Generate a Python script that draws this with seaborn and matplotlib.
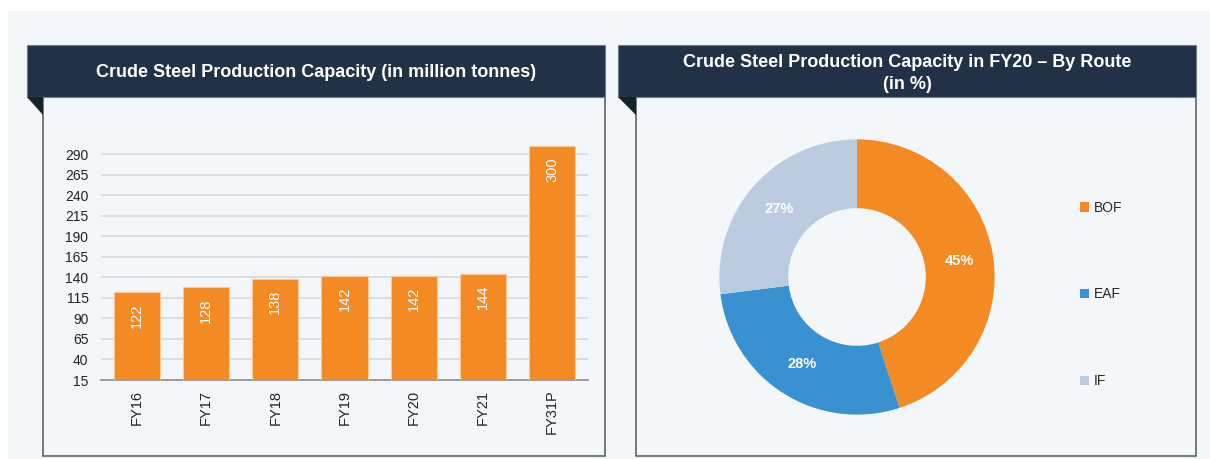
import matplotlib
matplotlib.use("Agg")
import matplotlib.pyplot as plt
import matplotlib.patches as mpatches
import seaborn as sns

# data
years = ["FY16", "FY17", "FY18", "FY19", "FY20", "FY21", "FY31P"]
capacity = [122, 128, 138, 142, 142, 144, 300]
y_ticks = [15, 40, 65, 90, 115, 140, 165, 190, 215, 240, 265, 290]

routes = ["BOF", "EAF", "IF"]
route_share = [45, 28, 27]

ORANGE = "#F38A23"
route_colors = ["#F38A23", "#3A91D1", "#BBCCE1"]
NAVY = "#213247"
PANEL_BG = "#F4F7F9"
BORDER = "#56666F"

sns.set_theme(style="white")
plt.rcParams["font.family"] = ["Liberation Sans", "DejaVu Sans"]
TITLE_FONT = ["Liberation Sans Narrow", "Liberation Sans", "DejaVu Sans"]

W, H = 1210, 459
fig = plt.figure(figsize=(W / 100, H / 100), dpi=100)
fig.patch.set_facecolor("white")


def px_rect(x0, y0, x1, y1, **kw):
    # rectangle given in image pixel coords (origin top-left)
    r = mpatches.Rectangle((x0 / W, 1 - y1 / H), (x1 - x0) / W, (y1 - y0) / H,
                           transform=fig.transFigure, figure=fig, **kw)
    fig.patches.append(r)


def px_poly(points, **kw):
    pts = [(x / W, 1 - y / H) for x, y in points]
    p = mpatches.Polygon(pts, closed=True, transform=fig.transFigure, figure=fig, **kw)
    fig.patches.append(p)


# page background
px_rect(8, 11, W, H, facecolor=PANEL_BG, edgecolor="none", zorder=-3)


def draw_panel(x0, x1, body_x0, title, title_y):
    px_rect(body_x0, 97, x1, 456, facecolor=PANEL_BG, edgecolor=BORDER, lw=1.2, zorder=-2)
    px_rect(x0, 45, x1, 97, facecolor=NAVY, edgecolor="#6E7F8C", lw=0.8, zorder=-1)
    px_poly([(x0, 97), (body_x0, 97), (body_x0, 115)], facecolor="#13232B",
            edgecolor="none", zorder=-1)
    fig.text((x0 + x1) / 2 / W, 1 - title_y / H, title, color="white",
             fontsize=13, fontweight="bold", family=TITLE_FONT,
             ha="center", va="center", linespacing=1.45, zorder=3)


draw_panel(27, 605, 43, "Crude Steel Production Capacity (in million tonnes)", 72.5)
draw_panel(618, 1196, 636, "Crude Steel Production Capacity in FY20 \u2013 By Route\n(in %)", 73.5)

# ---- bar chart ----
ax = fig.add_axes([101 / W, 1 - 380 / H, 487 / W, (380 - 137.6) / H])
ax.set_zorder(2)
ax.set_facecolor("none")
sns.barplot(x=years, y=capacity, color=ORANGE, ax=ax, width=0.67,
            saturation=1, edgecolor="#F9C99C", linewidth=0.8, zorder=3)
ax.set_ylim(15, 310)
ax.set_xlim(-0.52, len(years) - 0.48)
ax.set_yticks(y_ticks)
ax.yaxis.grid(True, color="#D6D9DB", lw=1.2, zorder=0)
ax.xaxis.grid(False)
ax.set_axisbelow(True)
for s in ["top", "right", "left"]:
    ax.spines[s].set_visible(False)
ax.spines["bottom"].set_color("#8C8C8C")
ax.spines["bottom"].set_linewidth(1.2)
ax.tick_params(axis="y", length=0, labelsize=10, labelcolor="#222222", pad=9)
ax.tick_params(axis="x", which="major", length=0, labelsize=10.5, labelcolor="#222222",
               pad=7, labelrotation=90)
ax.set_xticks([i + 0.5 for i in range(-1, len(years))], minor=True)
ax.tick_params(axis="x", which="minor", length=5, color="#8C8C8C", width=1.2)
ax.set_xlabel("")
ax.set_ylabel("")
for i, v in enumerate(capacity):
    ax.annotate(str(v), (i, v), xytext=(0, -8), textcoords="offset points",
                rotation=90, ha="center", va="top", color="white", fontsize=10.5, zorder=4)

# ---- donut ----
ax2 = fig.add_axes([717 / W, 1 - 416 / H, 280 / W, 278 / H])
ax2.set_zorder(2)
wedges, _, autotexts = ax2.pie(route_share, colors=route_colors, startangle=90,
                               counterclock=False, autopct="%d%%", pctdistance=0.75,
                               wedgeprops=dict(width=0.5, edgecolor="none"),
                               textprops=dict(color="white", fontsize=10.5, fontweight="bold"))
ax2.set_xlim(-1.01, 1.01)
ax2.set_ylim(-1.01, 1.01)
ax2.set_aspect("equal")
ax2.set_facecolor("none")

fig.legend(wedges, routes, loc="upper left", bbox_to_anchor=(1074 / W, 1 - 195 / H),
           frameon=False, fontsize=10, handlelength=0.7, handleheight=0.7,
           handletextpad=0.3, labelspacing=5.25, borderaxespad=0)

fig.savefig("out.png", dpi=100, facecolor=fig.get_facecolor())
